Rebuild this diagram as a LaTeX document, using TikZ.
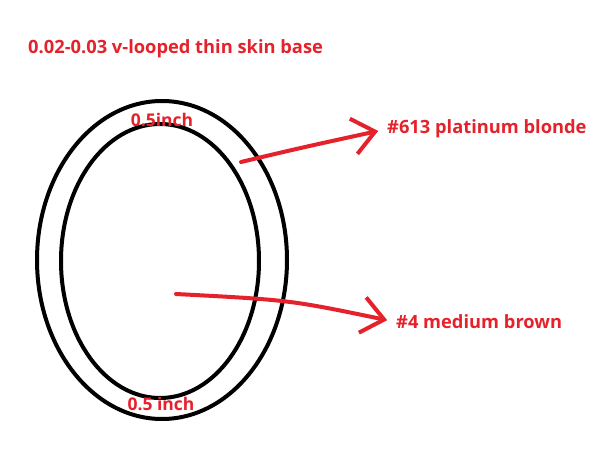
\documentclass[tikz,border=0pt]{standalone}
\usepackage{fontspec}
\setmainfont{Open Sans}
\usetikzlibrary{arrows.meta}
\definecolor{lred}{HTML}{E5222B}
\tikzset{
  lbl/.style={text=lred, font=\fontsize{18.3}{20}\selectfont\bfseries, inner sep=0pt, anchor=west},
  small/.style={text=lred, font=\fontsize{17.5}{19}\selectfont\bfseries, inner sep=0pt},
  ring/.style={draw=black, line width=4pt},
  pointer/.style={draw=lred, line width=4pt, line cap=round, line join=round, shorten >=9pt,
    -{Straight Barb[length=22pt,width=36pt,line width=4pt]}}
}
\begin{document}
\begin{tikzpicture}[x=1pt,y=-1pt]
\useasboundingbox (0,0) rectangle (611,463);
\fill[white] (0,0) rectangle (611,463);
\draw[ring] (162,260) ellipse [x radius=125, y radius=159];
\draw[ring] (160,261) ellipse [x radius=99, y radius=137];
\node[lbl] (title) at (28,49) {0.02-0.03 v-looped thin skin base};
\node[small] (top) at (162,120) {0.5inch};
\node[small] (bot) at (161,404) {0.5 inch};
\node[lbl] (plat) at (387,129) {\#613 platinum blonde};
\node[lbl] (brown) at (396,322) {\#4 medium brown};
\coordinate (s1) at (241,162);
\coordinate (s2) at (176,294);
\draw[pointer] (s1) .. controls (300,148) .. (plat.west);
\draw[pointer] (s2) .. controls (290,300) .. (brown.west);
\end{tikzpicture}
\end{document}
